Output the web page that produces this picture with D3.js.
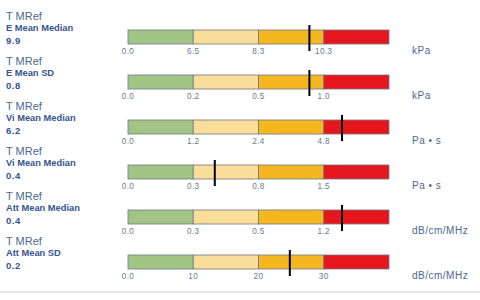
<!DOCTYPE html>
<html><head><meta charset="utf-8">
<script src="https://cdn.jsdelivr.net/npm/d3@7"></script>
<style>html,body{margin:0;padding:0;background:#fff;}svg{display:block;}</style>
</head><body>
<svg id="chart" width="480" height="300"></svg>
<script>
const rowIds = ["E_med","E_sd","Vi_med","Vi_sd","Att_med","Att_sd"];
const headers = ["T MRef","T MRef","T MRef","T MRef","T MRef","T MRef"];
const metricNames = ["E Mean Median","E Mean SD","Vi Mean Median","Vi Mean Median","Att Mean Median","Att Mean SD"];
const metricValues = ["9.9","0.8","6.2","0.4","0.4","0.2"];
const units = ["kPa","kPa","Pa \u2022 s","Pa \u2022 s","dB/cm/MHz","dB/cm/MHz"];
const tickLabels = [
  ["0.0","6.5","8.3","10.3"],
  ["0.0","0.2","0.5","1.0"],
  ["0.0","1.2","2.4","4.8"],
  ["0.0","0.3","0.8","1.5"],
  ["0.0","0.3","0.5","1.2"],
  ["0.0","10","20","30"]
];
// marker position, in segment units (0..4)
const markerPos = [2.78, 2.78, 3.28, 1.33, 3.28, 2.48];
const segColors = ["#a2c586","#fadd98","#f4b71f","#e6171c"];

const svg = d3.select("#chart");
const x = d3.scaleLinear().domain([0,4]).range([128,389]);
const y = d3.scalePoint().domain(rowIds).range([30,255]);
const barH = 14;
const ff = "Liberation Sans, Arial, sans-serif";

rowIds.forEach((id,i)=>{
  const g = svg.append("g");
  const y0 = y(id);
  g.selectAll("rect").data(segColors).join("rect")
    .attr("x",(d,j)=>x(j)).attr("y",y0)
    .attr("width",(d,j)=>x(j+1)-x(j)).attr("height",barH)
    .attr("fill",d=>d).attr("stroke","#6f7888").attr("stroke-width",0.8);
  g.selectAll("text.tick").data(tickLabels[i]).join("text")
    .attr("class","tick")
    .attr("x",(d,j)=>x(j)).attr("y",y0+barH+10)
    .attr("text-anchor","middle")
    .attr("font-family",ff).attr("letter-spacing",0.4)
    .attr("font-size",8.2).attr("fill","#6c7a8e").text(d=>d);
  g.append("line")
    .attr("x1",x(markerPos[i])).attr("x2",x(markerPos[i]))
    .attr("y1",y0-5).attr("y2",y0+barH+7)
    .attr("stroke","#000").attr("stroke-width",2);
  const ty = y0 - 30;
  g.append("text").attr("x",6).attr("y",ty+20)
    .attr("font-family",ff)
    .attr("font-size",11).attr("fill","#4a6894").text(headers[i]);
  g.append("text").attr("x",6).attr("y",ty+31)
    .attr("font-family",ff).attr("font-weight","bold")
    .attr("font-size",9.3).attr("fill","#34558f").text(metricNames[i]);
  g.append("text").attr("x",6).attr("y",ty+44)
    .attr("font-family",ff).attr("font-weight","bold").attr("letter-spacing",0.5)
    .attr("font-size",9.5).attr("fill","#34558f").text(metricValues[i]);
  g.append("text").attr("x",412).attr("y",y0+24)
    .attr("font-family",ff).attr("letter-spacing",0.5)
    .attr("font-size",10).attr("fill","#4d6790").text(units[i]);
});

svg.append("line").attr("x1",0).attr("x2",480).attr("y1",292).attr("y2",292)
  .attr("stroke","#cfcfcf").attr("stroke-width",1.2);
</script>
</body></html>
